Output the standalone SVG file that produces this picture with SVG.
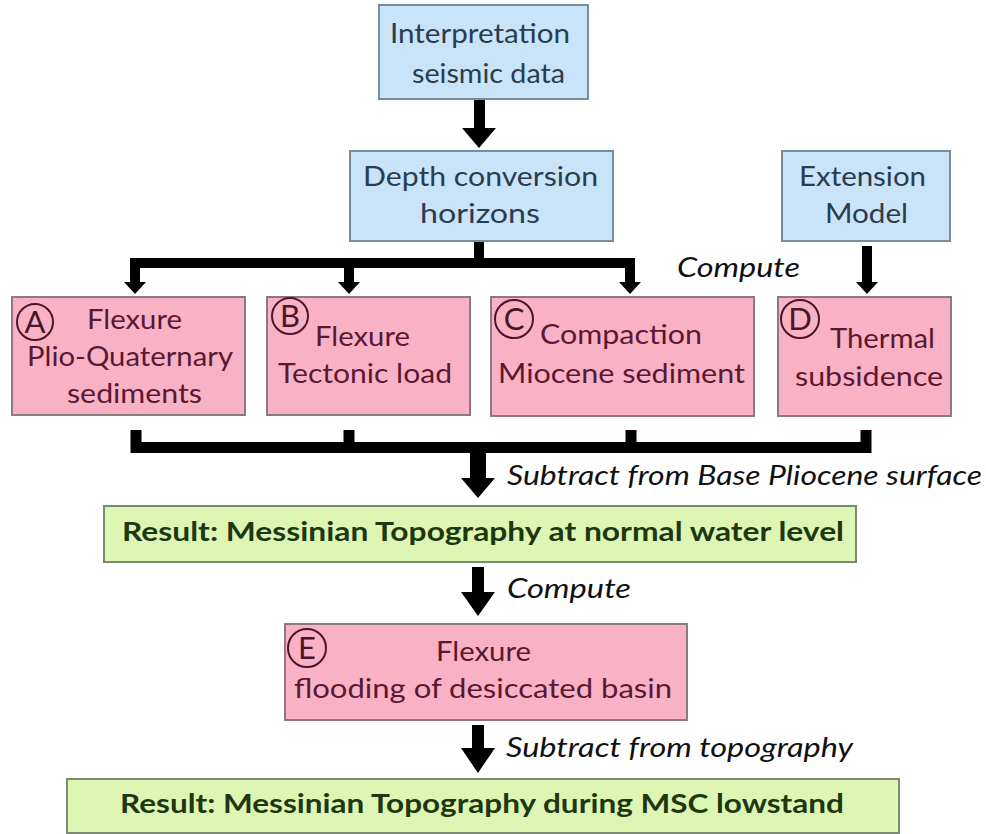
<svg xmlns="http://www.w3.org/2000/svg" width="986" height="834" viewBox="0 0 986 834">
<style>
.blue{fill:#c9e3f8;stroke:#7d8c99;stroke-width:2}
.pink{fill:#f9b2c5;stroke:#8c7a80;stroke-width:2}
.green{fill:#ddf6b3;stroke:#7b8a70;stroke-width:2}
.bt{font-family:Lato,"Noto Sans",sans-serif;font-size:26px;fill:#2a3c4e}
.pt{font-family:Lato,"Noto Sans",sans-serif;font-size:26px;fill:#5a1832}
.gt{font-family:Lato,"Noto Sans",sans-serif;font-size:27px;font-weight:bold;fill:#1d3811}
.it{font-family:Lato,"Noto Sans",sans-serif;font-size:27px;font-style:italic;fill:#111}
.circ{fill:none;stroke:#4a1526;stroke-width:2}
.ct{font-family:Lato,"Noto Sans",sans-serif;font-size:31px;fill:#4a1526;text-anchor:middle}
.ln{fill:none;stroke:#000;stroke-linejoin:miter;stroke-linecap:butt}
.hd{fill:#000}
</style>
<rect width="986" height="834" fill="#fff"/>
<g id="connectors">
<rect class="hd" x="474" y="100" width="11" height="29"/>
<polygon class="hd" points="462,128 496,128 479,148"/>
<path class="ln" stroke-width="10" d="M135,283 V263 H630 V283"/>
<path class="ln" stroke-width="10" d="M349,263 V283"/>
<path class="ln" stroke-width="10" d="M479,242 V263"/>
<polygon class="hd" points="124,282 146,282 135,294"/>
<polygon class="hd" points="338,282 360,282 349,294"/>
<polygon class="hd" points="619,282 641,282 630,294"/>
<path class="ln" stroke-width="10" d="M867,246 V283"/>
<polygon class="hd" points="856,282 878,282 867,294"/>
<path class="ln" stroke-width="11" d="M136,430 V447.5 H866 V430"/>
<path class="ln" stroke-width="11" d="M349,430 V447"/>
<path class="ln" stroke-width="11" d="M631,430 V447"/>
<rect class="hd" x="470" y="447" width="16" height="33"/>
<polygon class="hd" points="461,478 495,478 478,498"/>
<rect class="hd" x="472" y="567" width="12" height="27"/>
<polygon class="hd" points="461,592 495,592 478,616"/>
<rect class="hd" x="472" y="725" width="12" height="25"/>
<polygon class="hd" points="461,748 495,748 478,773"/>
</g>
<g id="labels">
<text class="it" x="677" y="277" textLength="123" lengthAdjust="spacingAndGlyphs">Compute</text>
<text class="it" x="507" y="485" textLength="475" lengthAdjust="spacingAndGlyphs">Subtract from Base Pliocene surface</text>
<text class="it" x="507" y="598" textLength="124" lengthAdjust="spacingAndGlyphs">Compute</text>
<text class="it" x="506" y="757" textLength="347" lengthAdjust="spacingAndGlyphs">Subtract from topography</text>
</g>
<g id="interpretation">
<rect class="blue" x="379" y="5" width="209" height="94"/>
<text class="bt" x="390" y="43" textLength="180" lengthAdjust="spacingAndGlyphs">Interpretation</text>
<text class="bt" x="412" y="83" textLength="153" lengthAdjust="spacingAndGlyphs">seismic data</text>
</g>
<g id="depth">
<rect class="blue" x="350" y="151" width="263" height="90"/>
<text class="bt" x="363" y="186" textLength="235" lengthAdjust="spacingAndGlyphs">Depth conversion</text>
<text class="bt" x="420" y="223" textLength="120" lengthAdjust="spacingAndGlyphs">horizons</text>
</g>
<g id="extension">
<rect class="blue" x="782" y="151" width="168" height="90"/>
<text class="bt" x="799" y="186" textLength="127" lengthAdjust="spacingAndGlyphs">Extension</text>
<text class="bt" x="825" y="223" textLength="83" lengthAdjust="spacingAndGlyphs">Model</text>
</g>
<g id="nodeA">
<rect class="pink" x="12" y="297" width="233" height="118"/>
<circle class="circ" cx="35" cy="322" r="18"/>
<text class="ct" x="35" y="333">A</text>
<text class="pt" x="87" y="329" textLength="95" lengthAdjust="spacingAndGlyphs">Flexure</text>
<text class="pt" x="27" y="366" textLength="206" lengthAdjust="spacingAndGlyphs">Plio-Quaternary</text>
<text class="pt" x="67" y="403" textLength="135" lengthAdjust="spacingAndGlyphs">sediments</text>
</g>
<g id="nodeB">
<rect class="pink" x="267" y="297" width="203" height="118"/>
<circle class="circ" cx="290" cy="316" r="18"/>
<text class="ct" x="290" y="327">B</text>
<text class="pt" x="315" y="346" textLength="95" lengthAdjust="spacingAndGlyphs">Flexure</text>
<text class="pt" x="278" y="383" textLength="174" lengthAdjust="spacingAndGlyphs">Tectonic load</text>
</g>
<g id="nodeC">
<rect class="pink" x="491" y="297" width="263" height="119"/>
<circle class="circ" cx="514" cy="319" r="19"/>
<text class="ct" x="514" y="330">C</text>
<text class="pt" x="540" y="344" textLength="162" lengthAdjust="spacingAndGlyphs">Compaction</text>
<text class="pt" x="498" y="383" textLength="247" lengthAdjust="spacingAndGlyphs">Miocene sediment</text>
</g>
<g id="nodeD">
<rect class="pink" x="778" y="297" width="173" height="119"/>
<circle class="circ" cx="800" cy="319" r="19"/>
<text class="ct" x="800" y="330">D</text>
<text class="pt" x="830" y="348" textLength="105" lengthAdjust="spacingAndGlyphs">Thermal</text>
<text class="pt" x="795" y="386" textLength="148" lengthAdjust="spacingAndGlyphs">subsidence</text>
</g>
<g id="result1">
<rect class="green" x="104" y="506" width="752" height="56"/>
<text class="gt" x="122" y="541" textLength="722" lengthAdjust="spacingAndGlyphs">Result: Messinian Topography at normal water level</text>
</g>
<g id="nodeE">
<rect class="pink" x="285" y="624" width="402" height="96"/>
<circle class="circ" cx="307" cy="648" r="19"/>
<text class="ct" x="307" y="659">E</text>
<text class="pt" x="436" y="661" textLength="95" lengthAdjust="spacingAndGlyphs">Flexure</text>
<text class="pt" x="294" y="698" textLength="378" lengthAdjust="spacingAndGlyphs">flooding of desiccated basin</text>
</g>
<g id="result2">
<rect class="green" x="67" y="779" width="832" height="54"/>
<text class="gt" x="120" y="813" textLength="724" lengthAdjust="spacingAndGlyphs">Result: Messinian Topography during MSC lowstand</text>
</g>
</svg>
